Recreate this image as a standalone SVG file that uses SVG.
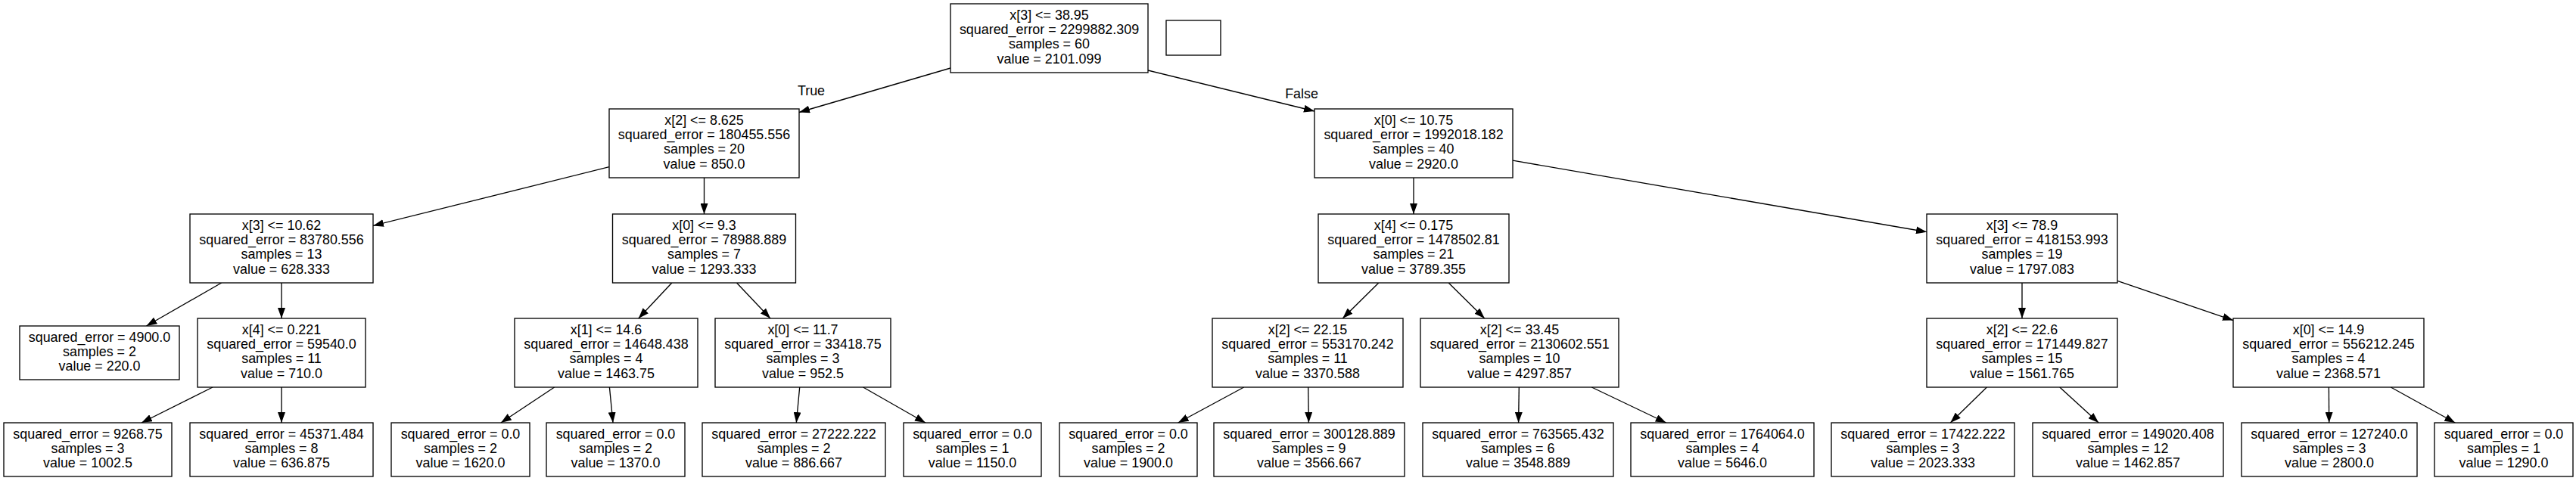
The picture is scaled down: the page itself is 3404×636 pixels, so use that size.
<svg xmlns="http://www.w3.org/2000/svg" width="3404" height="636" viewBox="0 0 3404 636">
<style>
.node rect{fill:#fff;stroke:#000;stroke-width:1.33}
.node text,.lbl{font-family:"Liberation Sans",Arial,Helvetica,sans-serif;font-size:17.9px;fill:#000;text-anchor:middle}
.edges line{stroke:#000;stroke-width:1.33;marker-end:url(#arr)}
</style>
<defs>
<marker id="arr" markerUnits="userSpaceOnUse" viewBox="0 0 14 10" refX="14" refY="5" markerWidth="14" markerHeight="10" orient="auto">
<path d="M0,0 L14,5 L0,10 z" fill="#000"/>
</marker>
</defs>
<rect width="3404" height="636" fill="#fff"/>
<g class="edges">
<line x1="1256" y1="90" x2="1056" y2="148.5"/>
<line x1="1517" y1="93" x2="1737" y2="147"/>
<line x1="805" y1="220.7" x2="493" y2="298.4"/>
<line x1="930.5" y1="235" x2="930.5" y2="283"/>
<line x1="1868" y1="235" x2="1868" y2="283"/>
<line x1="1999" y1="212.2" x2="2546" y2="306.7"/>
<line x1="292.7" y1="374" x2="193.4" y2="431"/>
<line x1="372" y1="374" x2="372" y2="421"/>
<line x1="887.8" y1="374" x2="843.7" y2="421"/>
<line x1="973.5" y1="374" x2="1018" y2="421"/>
<line x1="1821.8" y1="374" x2="1774.2" y2="421"/>
<line x1="1914.2" y1="374" x2="1961.8" y2="421"/>
<line x1="2672" y1="374" x2="2672" y2="421"/>
<line x1="2798" y1="371.4" x2="2951" y2="423.6"/>
<line x1="281" y1="512" x2="187" y2="559"/>
<line x1="372" y1="512" x2="372" y2="559"/>
<line x1="732.6" y1="512" x2="661.9" y2="559"/>
<line x1="805.4" y1="512" x2="810" y2="559"/>
<line x1="1056.7" y1="512" x2="1052.3" y2="559"/>
<line x1="1140.6" y1="512" x2="1222.9" y2="559"/>
<line x1="1643.7" y1="512" x2="1556.7" y2="559"/>
<line x1="1728.7" y1="512" x2="1729.4" y2="559"/>
<line x1="2007.3" y1="512" x2="2006.6" y2="559"/>
<line x1="2103.3" y1="512" x2="2201.7" y2="559"/>
<line x1="2625.4" y1="512" x2="2577.3" y2="559"/>
<line x1="2721.8" y1="512" x2="2773.2" y2="559"/>
<line x1="3077.4" y1="512" x2="3077.7" y2="559"/>
<line x1="3159.3" y1="512" x2="3244.3" y2="559"/>
<text class="lbl" x="1072" y="125.5">True</text>
<text class="lbl" x="1720" y="130">False</text>
</g>
<g id="n0" class="node"><rect x="1256" y="5" width="261" height="91"/><text x="1386.5" y="25.8"><tspan x="1386.5">x[3] &lt;= 38.95</tspan><tspan x="1386.5" dy="19.25">squared_error = 2299882.309</tspan><tspan x="1386.5" dy="19.25">samples = 60</tspan><tspan x="1386.5" dy="19.25">value = 2101.099</tspan></text></g>
<g id="legend" class="node"><rect x="1541" y="27" width="72" height="46"/></g>
<g id="n1" class="node"><rect x="805" y="144" width="251" height="91"/><text x="930.5" y="164.8"><tspan x="930.5">x[2] &lt;= 8.625</tspan><tspan x="930.5" dy="19.25">squared_error = 180455.556</tspan><tspan x="930.5" dy="19.25">samples = 20</tspan><tspan x="930.5" dy="19.25">value = 850.0</tspan></text></g>
<g id="n16" class="node"><rect x="1737" y="144" width="262" height="91"/><text x="1868" y="164.8"><tspan x="1868">x[0] &lt;= 10.75</tspan><tspan x="1868" dy="19.25">squared_error = 1992018.182</tspan><tspan x="1868" dy="19.25">samples = 40</tspan><tspan x="1868" dy="19.25">value = 2920.0</tspan></text></g>
<g id="n2" class="node"><rect x="251" y="283" width="242" height="91"/><text x="372" y="303.8"><tspan x="372">x[3] &lt;= 10.62</tspan><tspan x="372" dy="19.25">squared_error = 83780.556</tspan><tspan x="372" dy="19.25">samples = 13</tspan><tspan x="372" dy="19.25">value = 628.333</tspan></text></g>
<g id="n8" class="node"><rect x="809.5" y="283" width="242" height="91"/><text x="930.5" y="303.8"><tspan x="930.5">x[0] &lt;= 9.3</tspan><tspan x="930.5" dy="19.25">squared_error = 78988.889</tspan><tspan x="930.5" dy="19.25">samples = 7</tspan><tspan x="930.5" dy="19.25">value = 1293.333</tspan></text></g>
<g id="n17" class="node"><rect x="1742" y="283" width="252" height="91"/><text x="1868" y="303.8"><tspan x="1868">x[4] &lt;= 0.175</tspan><tspan x="1868" dy="19.25">squared_error = 1478502.81</tspan><tspan x="1868" dy="19.25">samples = 21</tspan><tspan x="1868" dy="19.25">value = 3789.355</tspan></text></g>
<g id="n24" class="node"><rect x="2546" y="283" width="252" height="91"/><text x="2672" y="303.8"><tspan x="2672">x[3] &lt;= 78.9</tspan><tspan x="2672" dy="19.25">squared_error = 418153.993</tspan><tspan x="2672" dy="19.25">samples = 19</tspan><tspan x="2672" dy="19.25">value = 1797.083</tspan></text></g>
<g id="n3" class="node"><rect x="26" y="431" width="211" height="71"/><text x="131.5" y="451.6"><tspan x="131.5">squared_error = 4900.0</tspan><tspan x="131.5" dy="19.25">samples = 2</tspan><tspan x="131.5" dy="19.25">value = 220.0</tspan></text></g>
<g id="n4" class="node"><rect x="261" y="421" width="222" height="91"/><text x="372" y="441.8"><tspan x="372">x[4] &lt;= 0.221</tspan><tspan x="372" dy="19.25">squared_error = 59540.0</tspan><tspan x="372" dy="19.25">samples = 11</tspan><tspan x="372" dy="19.25">value = 710.0</tspan></text></g>
<g id="n9" class="node"><rect x="680" y="421" width="242" height="91"/><text x="801" y="441.8"><tspan x="801">x[1] &lt;= 14.6</tspan><tspan x="801" dy="19.25">squared_error = 14648.438</tspan><tspan x="801" dy="19.25">samples = 4</tspan><tspan x="801" dy="19.25">value = 1463.75</tspan></text></g>
<g id="n12" class="node"><rect x="945" y="421" width="232" height="91"/><text x="1061" y="441.8"><tspan x="1061">x[0] &lt;= 11.7</tspan><tspan x="1061" dy="19.25">squared_error = 33418.75</tspan><tspan x="1061" dy="19.25">samples = 3</tspan><tspan x="1061" dy="19.25">value = 952.5</tspan></text></g>
<g id="n18" class="node"><rect x="1602" y="421" width="252" height="91"/><text x="1728" y="441.8"><tspan x="1728">x[2] &lt;= 22.15</tspan><tspan x="1728" dy="19.25">squared_error = 553170.242</tspan><tspan x="1728" dy="19.25">samples = 11</tspan><tspan x="1728" dy="19.25">value = 3370.588</tspan></text></g>
<g id="n21" class="node"><rect x="1877" y="421" width="262" height="91"/><text x="2008" y="441.8"><tspan x="2008">x[2] &lt;= 33.45</tspan><tspan x="2008" dy="19.25">squared_error = 2130602.551</tspan><tspan x="2008" dy="19.25">samples = 10</tspan><tspan x="2008" dy="19.25">value = 4297.857</tspan></text></g>
<g id="n25" class="node"><rect x="2546" y="421" width="252" height="91"/><text x="2672" y="441.8"><tspan x="2672">x[2] &lt;= 22.6</tspan><tspan x="2672" dy="19.25">squared_error = 171449.827</tspan><tspan x="2672" dy="19.25">samples = 15</tspan><tspan x="2672" dy="19.25">value = 1561.765</tspan></text></g>
<g id="n28" class="node"><rect x="2951" y="421" width="252" height="91"/><text x="3077" y="441.8"><tspan x="3077">x[0] &lt;= 14.9</tspan><tspan x="3077" dy="19.25">squared_error = 556212.245</tspan><tspan x="3077" dy="19.25">samples = 4</tspan><tspan x="3077" dy="19.25">value = 2368.571</tspan></text></g>
<g id="n5" class="node"><rect x="5" y="559" width="222" height="71"/><text x="116" y="579.6"><tspan x="116">squared_error = 9268.75</tspan><tspan x="116" dy="19.25">samples = 3</tspan><tspan x="116" dy="19.25">value = 1002.5</tspan></text></g>
<g id="n6" class="node"><rect x="251" y="559" width="242" height="71"/><text x="372" y="579.6"><tspan x="372">squared_error = 45371.484</tspan><tspan x="372" dy="19.25">samples = 8</tspan><tspan x="372" dy="19.25">value = 636.875</tspan></text></g>
<g id="n10" class="node"><rect x="517" y="559" width="183" height="71"/><text x="608.5" y="579.6"><tspan x="608.5">squared_error = 0.0</tspan><tspan x="608.5" dy="19.25">samples = 2</tspan><tspan x="608.5" dy="19.25">value = 1620.0</tspan></text></g>
<g id="n11" class="node"><rect x="722" y="559" width="183" height="71"/><text x="813.5" y="579.6"><tspan x="813.5">squared_error = 0.0</tspan><tspan x="813.5" dy="19.25">samples = 2</tspan><tspan x="813.5" dy="19.25">value = 1370.0</tspan></text></g>
<g id="n13" class="node"><rect x="928" y="559" width="242" height="71"/><text x="1049" y="579.6"><tspan x="1049">squared_error = 27222.222</tspan><tspan x="1049" dy="19.25">samples = 2</tspan><tspan x="1049" dy="19.25">value = 886.667</tspan></text></g>
<g id="n14" class="node"><rect x="1194" y="559" width="182" height="71"/><text x="1285" y="579.6"><tspan x="1285">squared_error = 0.0</tspan><tspan x="1285" dy="19.25">samples = 1</tspan><tspan x="1285" dy="19.25">value = 1150.0</tspan></text></g>
<g id="n19" class="node"><rect x="1400" y="559" width="182" height="71"/><text x="1491" y="579.6"><tspan x="1491">squared_error = 0.0</tspan><tspan x="1491" dy="19.25">samples = 2</tspan><tspan x="1491" dy="19.25">value = 1900.0</tspan></text></g>
<g id="n20" class="node"><rect x="1604" y="559" width="252" height="71"/><text x="1730" y="579.6"><tspan x="1730">squared_error = 300128.889</tspan><tspan x="1730" dy="19.25">samples = 9</tspan><tspan x="1730" dy="19.25">value = 3566.667</tspan></text></g>
<g id="n22" class="node"><rect x="1880" y="559" width="252" height="71"/><text x="2006" y="579.6"><tspan x="2006">squared_error = 763565.432</tspan><tspan x="2006" dy="19.25">samples = 6</tspan><tspan x="2006" dy="19.25">value = 3548.889</tspan></text></g>
<g id="n23" class="node"><rect x="2155" y="559" width="242" height="71"/><text x="2276" y="579.6"><tspan x="2276">squared_error = 1764064.0</tspan><tspan x="2276" dy="19.25">samples = 4</tspan><tspan x="2276" dy="19.25">value = 5646.0</tspan></text></g>
<g id="n26" class="node"><rect x="2420" y="559" width="242" height="71"/><text x="2541" y="579.6"><tspan x="2541">squared_error = 17422.222</tspan><tspan x="2541" dy="19.25">samples = 3</tspan><tspan x="2541" dy="19.25">value = 2023.333</tspan></text></g>
<g id="n27" class="node"><rect x="2686" y="559" width="252" height="71"/><text x="2812" y="579.6"><tspan x="2812">squared_error = 149020.408</tspan><tspan x="2812" dy="19.25">samples = 12</tspan><tspan x="2812" dy="19.25">value = 1462.857</tspan></text></g>
<g id="n29" class="node"><rect x="2962" y="559" width="232" height="71"/><text x="3078" y="579.6"><tspan x="3078">squared_error = 127240.0</tspan><tspan x="3078" dy="19.25">samples = 3</tspan><tspan x="3078" dy="19.25">value = 2800.0</tspan></text></g>
<g id="n30" class="node"><rect x="3217" y="559" width="183" height="71"/><text x="3308.5" y="579.6"><tspan x="3308.5">squared_error = 0.0</tspan><tspan x="3308.5" dy="19.25">samples = 1</tspan><tspan x="3308.5" dy="19.25">value = 1290.0</tspan></text></g>
</svg>
